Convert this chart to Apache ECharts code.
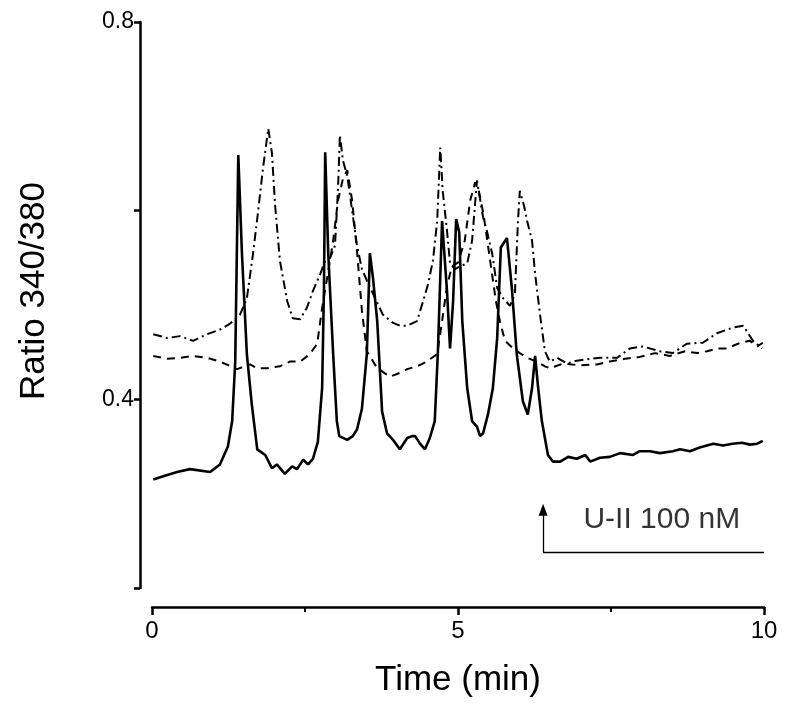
<!DOCTYPE html>
<html>
<head>
<meta charset="utf-8">
<script src="https://cdn.jsdelivr.net/npm/echarts@6/dist/echarts.min.js"></script>
<style>
html,body{margin:0;padding:0;background:#fff;}
#c{width:800px;height:707px;}
</style>
</head>
<body>
<div id="c"></div>
<script>
// Time (min) and Ratio 340/380 values for each trace
const solidT = [0.02,0.21,0.41,0.62,0.95,1.11,1.24,1.31,1.36,1.41,1.47,1.55,1.63,1.72,1.85,1.96,2.04,2.17,2.29,2.37,2.47,2.55,2.63,2.71,2.78,2.81,2.83,2.88,2.96,3.02,3.06,3.19,3.28,3.35,3.43,3.51,3.56,3.61,3.68,3.76,3.84,3.94,4.05,4.17,4.25,4.30,4.38,4.46,4.54,4.62,4.67,4.74,4.77,4.82,4.87,4.92,4.97,5.02,5.07,5.15,5.23,5.31,5.36,5.41,5.49,5.57,5.64,5.70,5.80,5.88,5.96,6.06,6.14,6.21,6.26,6.31,6.37,6.47,6.55,6.67,6.80,6.94,7.08,7.16,7.32,7.48,7.65,7.86,7.97,8.14,8.30,8.51,8.63,8.79,8.95,9.17,9.33,9.49,9.64,9.77,9.89,9.98];
const solidV = [0.315,0.319,0.323,0.326,0.323,0.331,0.350,0.377,0.440,0.659,0.554,0.448,0.395,0.347,0.341,0.327,0.331,0.321,0.329,0.326,0.336,0.331,0.337,0.355,0.412,0.518,0.662,0.554,0.448,0.377,0.361,0.357,0.361,0.368,0.390,0.448,0.555,0.529,0.483,0.387,0.364,0.357,0.347,0.359,0.361,0.361,0.353,0.347,0.359,0.377,0.448,0.589,0.587,0.515,0.454,0.504,0.591,0.577,0.483,0.412,0.377,0.371,0.361,0.364,0.384,0.412,0.465,0.561,0.571,0.518,0.448,0.398,0.384,0.412,0.446,0.412,0.377,0.341,0.334,0.334,0.339,0.337,0.341,0.334,0.338,0.339,0.343,0.341,0.345,0.345,0.343,0.345,0.347,0.345,0.349,0.353,0.351,0.353,0.354,0.352,0.353,0.356];

const dashDotT = [0.02,0.25,0.46,0.67,0.90,1.11,1.27,1.44,1.55,1.65,1.73,1.81,1.90,1.96,2.01,2.09,2.21,2.30,2.42,2.53,2.63,2.75,2.83,2.91,2.99,3.04,3.07,3.12,3.19,3.27,3.35,3.43,3.51,3.61,3.77,3.94,4.05,4.17,4.33,4.43,4.51,4.59,4.66,4.71,4.75,4.82,4.87,4.95,5.03,5.15,5.23,5.31,5.41,5.47,5.56,5.64,5.74,5.85,5.93,5.98,6.01,6.08,6.13,6.21,6.26,6.34,6.42,6.50,6.62,6.78,6.94,7.16,7.32,7.60,7.81,8.02,8.30,8.51,8.74,9.00,9.23,9.49,9.66,9.82,9.97];
const dashDotV = [0.469,0.465,0.467,0.462,0.469,0.474,0.480,0.490,0.507,0.554,0.597,0.643,0.687,0.661,0.607,0.547,0.504,0.486,0.485,0.497,0.515,0.533,0.547,0.550,0.563,0.624,0.680,0.653,0.637,0.600,0.563,0.538,0.526,0.512,0.490,0.481,0.478,0.478,0.483,0.504,0.522,0.547,0.589,0.667,0.621,0.579,0.544,0.538,0.541,0.544,0.568,0.632,0.593,0.579,0.554,0.518,0.507,0.499,0.512,0.589,0.621,0.605,0.589,0.568,0.533,0.490,0.451,0.440,0.444,0.438,0.441,0.443,0.444,0.444,0.454,0.456,0.451,0.449,0.459,0.460,0.470,0.476,0.478,0.462,0.454];

const dashT = [0.02,0.25,0.46,0.67,0.90,1.11,1.39,1.60,1.72,1.88,2.09,2.25,2.42,2.58,2.70,2.78,2.88,2.96,3.04,3.12,3.19,3.27,3.35,3.43,3.51,3.68,3.89,4.05,4.17,4.33,4.49,4.66,4.74,4.82,4.90,5.00,5.11,5.20,5.28,5.34,5.42,5.49,5.56,5.62,5.69,5.77,5.90,6.01,6.13,6.29,6.42,6.50,6.72,6.99,7.27,7.48,7.73,7.97,8.22,8.46,8.71,8.91,9.07,9.25,9.40,9.61,9.77,9.89,9.98];
const dashV = [0.446,0.443,0.444,0.446,0.444,0.440,0.432,0.437,0.433,0.433,0.435,0.440,0.440,0.448,0.459,0.497,0.536,0.568,0.611,0.634,0.643,0.611,0.557,0.494,0.451,0.433,0.424,0.428,0.432,0.435,0.440,0.448,0.483,0.520,0.541,0.545,0.568,0.611,0.630,0.621,0.595,0.563,0.531,0.504,0.481,0.462,0.454,0.449,0.444,0.440,0.435,0.433,0.438,0.436,0.437,0.440,0.443,0.445,0.449,0.446,0.451,0.449,0.451,0.454,0.454,0.460,0.462,0.456,0.460];

// Axis tick labels and annotation
const xTickLabels = ['0', '5', '10'];
const yTickLabels = ['0.4', '0.8'];
const annotText = 'U-II 100 nM';
const arrowStartT = 6.39, arrowEndT = 10;
const arrowBaseV = 0.238, arrowTipV = 0.283;
const annotT = 8.33, annotV = 0.272;

const pair = (t, v) => t.map((x, i) => [x, v[i]]);
const FONT = '"Liberation Sans", Arial, sans-serif';

const chart = echarts.init(document.getElementById('c'), null, {renderer: 'canvas'});
chart.setOption({
  animation: false,
  backgroundColor: '#fff',
  grid: {left: 152, right: 36, top: 22, bottom: 119, containLabel: false},
  xAxis: {
    type: 'value', min: 0, max: 10, interval: 5,
    offset: 19,
    axisLine: {show: true, onZero: false, lineStyle: {color: '#000', width: 2.5}},
    axisTick: {show: true, length: 8, lineStyle: {color: '#000', width: 2.5}},
    minorTick: {show: true, splitNumber: 2, length: 5, lineStyle: {color: '#000', width: 2}},
    splitLine: {show: false},
    axisLabel: {color: '#000', fontSize: 24, fontFamily: FONT, margin: 12,
      formatter: v => xTickLabels.includes(String(v)) ? String(v) : ''},
    name: 'Time (min)', nameLocation: 'middle', nameGap: 56,
    nameTextStyle: {color: '#000', fontSize: 35, fontFamily: FONT}
  },
  yAxis: {
    type: 'value', min: 0.2, max: 0.8, interval: 0.2,
    offset: 12,
    axisLine: {show: true, onZero: false, lineStyle: {color: '#000', width: 2.5}},
    axisTick: {show: true, length: 6, lineStyle: {color: '#000', width: 2.5}},
    splitLine: {show: false},
    axisLabel: {color: '#000', fontSize: 23, fontFamily: FONT, margin: 6,
      formatter: v => { const s = v.toFixed(1); return yTickLabels.includes(s) ? s : ''; }},
    name: 'Ratio 340/380', nameLocation: 'middle', nameGap: 88,
    nameTextStyle: {color: '#000', fontSize: 35, fontFamily: FONT, padding: [0, 0, 0, 28]}
  },
  series: [
    {
      type: 'line', name: 'solid', data: pair(solidT, solidV), showSymbol: false, symbol: 'none',
      lineStyle: {color: '#000', width: 2.6, type: 'solid'},
      markLine: {
        silent: true, animation: false,
        label: {show: false},
        lineStyle: {color: '#000', width: 1.3, type: 'solid'},
        data: [
          [{coord: [arrowStartT, arrowBaseV], symbol: 'none'}, {coord: [arrowEndT, arrowBaseV], symbol: 'none'}],
          [{coord: [arrowStartT, arrowBaseV], symbol: 'none'}, {coord: [arrowStartT, arrowTipV], symbol: 'triangle', symbolSize: [9, 12]}]
        ]
      }
    },
    {
      type: 'line', name: 'dashdot', data: pair(dashDotT, dashDotV), showSymbol: false, symbol: 'none',
      lineStyle: {color: '#000', width: 2, type: [9, 4, 2, 4]}
    },
    {
      type: 'line', name: 'dash', data: pair(dashT, dashV), showSymbol: false, symbol: 'none',
      lineStyle: {color: '#000', width: 2, type: [8, 6]}
    },
    {
      type: 'scatter', name: 'annot', data: [[annotT, annotV]], symbolSize: 0, silent: true,
      label: {show: true, position: 'inside', formatter: annotText, color: '#000', fontSize: 30, fontFamily: FONT}
    }
  ]
});
</script>
</body>
</html>
